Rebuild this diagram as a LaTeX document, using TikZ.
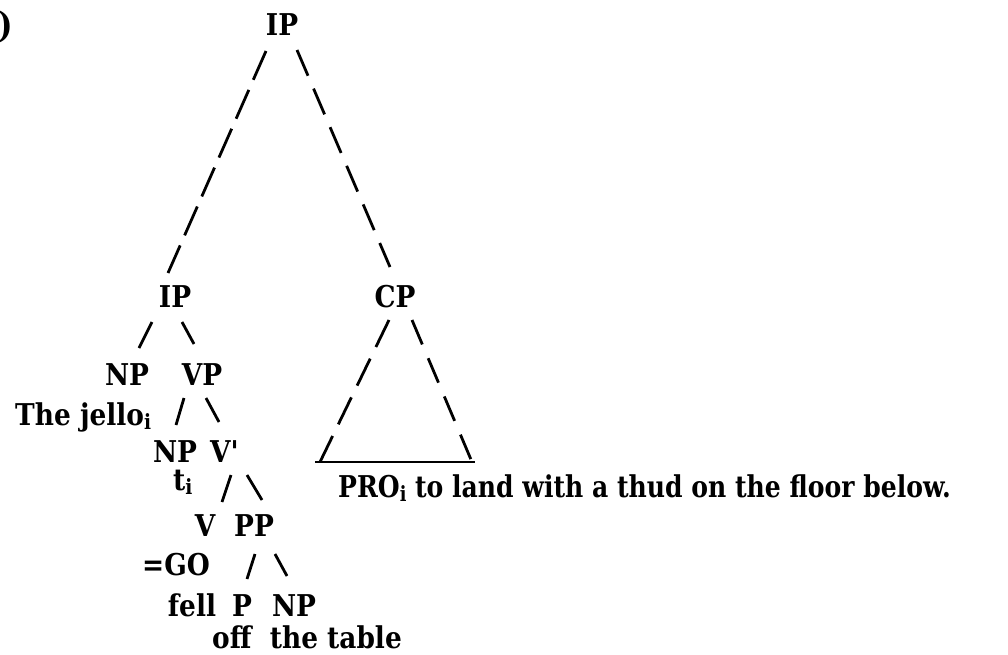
\documentclass[tikz,border=0pt]{standalone}
\usepackage{fontspec}
\setmainfont{DejaVu Serif Bold}[FakeStretch=0.88]
\usetikzlibrary{calc}
% small lowered index letter
\newcommand\idx{\raisebox{-4pt}{\fontsize{21}{21}\selectfont i}}
\begin{document}
\begin{tikzpicture}[x=1pt,y=-1pt,
  lbl/.style={inner sep=0pt,anchor=base,font=\fontsize{30}{36}\selectfont},
  lblw/.style={lbl,anchor=base west},
  stroke/.style={line width=2.8pt},
  longl/.style={stroke,dash pattern=on 31.5pt off 11pt},
  longr/.style={stroke,dash pattern=on 28pt off 14pt},
  roofl/.style={stroke,dash pattern=on 30pt off 13pt},
  roofr/.style={stroke,dash pattern=on 26.5pt off 15pt}]
\useasboundingbox (0,0) rectangle (1008,655);

% labels
\node[lbl,anchor=base east,font=\fontsize{35}{40}\selectfont] (paren) at (13,38) {)};
\node[lbl] (ip1) at (282,36) {IP};
\node[lbl] (ip2) at (175,307) {IP};
\node[lbl] (cp) at (395,307) {CP};
\node[lbl] (np1) at (127,385) {NP};
\node[lbl] (vp) at (202,385) {VP};
\node[lblw] (jello) at (15,425) {The jello\idx};
\node[lbl] (np2) at (175,462) {NP};
\node[lbl] (vbar) at (225,462) {V\textquotesingle};
\node[lblw] (ti) at (173,490) {t\idx};
\node[lbl] (v) at (205,536) {V};
\node[lbl] (pp) at (254,536) {PP};
\node[lblw] (go) at (142,575) {=GO};
\node[lbl] (fell) at (192,616) {fell};
\node[lbl] (p) at (242,616) {P};
\node[lbl] (np3) at (294,616) {NP};
\node[lblw] (table) at (212,648) {off\ \ the table};
\node[lblw] (pro) at (338,497) {\scalebox{0.95}[1]{PRO\idx{} to land with a thud on the floor below.}};

% top branches
\draw[longl] ($(ip1.base)+(-16,15)$) -- ($(ip2.base)+(-7,-34)$);
\draw[longr] ($(ip1.base)+(15,14)$) -- ($(cp.base)+(-5,-40)$);

% CP roof
\coordinate (roofL) at ($(pro.base west)+(-18,-35)$);
\coordinate (roofR) at ($(pro.base west)+(134,-35)$);
\draw[roofl] ($(cp.base)+(-6,13)$) -- (roofL);
\draw[roofr] ($(cp.base)+(17,13)$) -- (roofR);
\draw[stroke] ($(roofL)+(-5,0)$) -- ($(roofR)+(3,0)$);

% lower branches
\draw[stroke] ($(ip2.base)+(-23,15)$) -- ($(np1.base)+(12,-37)$);
\draw[stroke] ($(ip2.base)+(7,15)$) -- ($(vp.base)+(-8,-41)$);
\draw[stroke] ($(vp.base)+(-18,13)$) -- ($(np2.base)+(1,-37)$);
\draw[stroke] ($(vp.base)+(4,13)$) -- ($(vbar.base)+(-6,-40)$);
\draw[stroke] ($(vbar.base)+(6,13)$) -- ($(v.base)+(17,-34)$);
\draw[stroke] ($(vbar.base)+(22,13)$) -- ($(pp.base)+(8,-36)$);
\draw[stroke] ($(pp.base)+(1,18)$) -- ($(p.base)+(5,-37)$);
\draw[stroke] ($(pp.base)+(21,18)$) -- ($(np3.base)+(-7,-40)$);
\end{tikzpicture}
\end{document}
